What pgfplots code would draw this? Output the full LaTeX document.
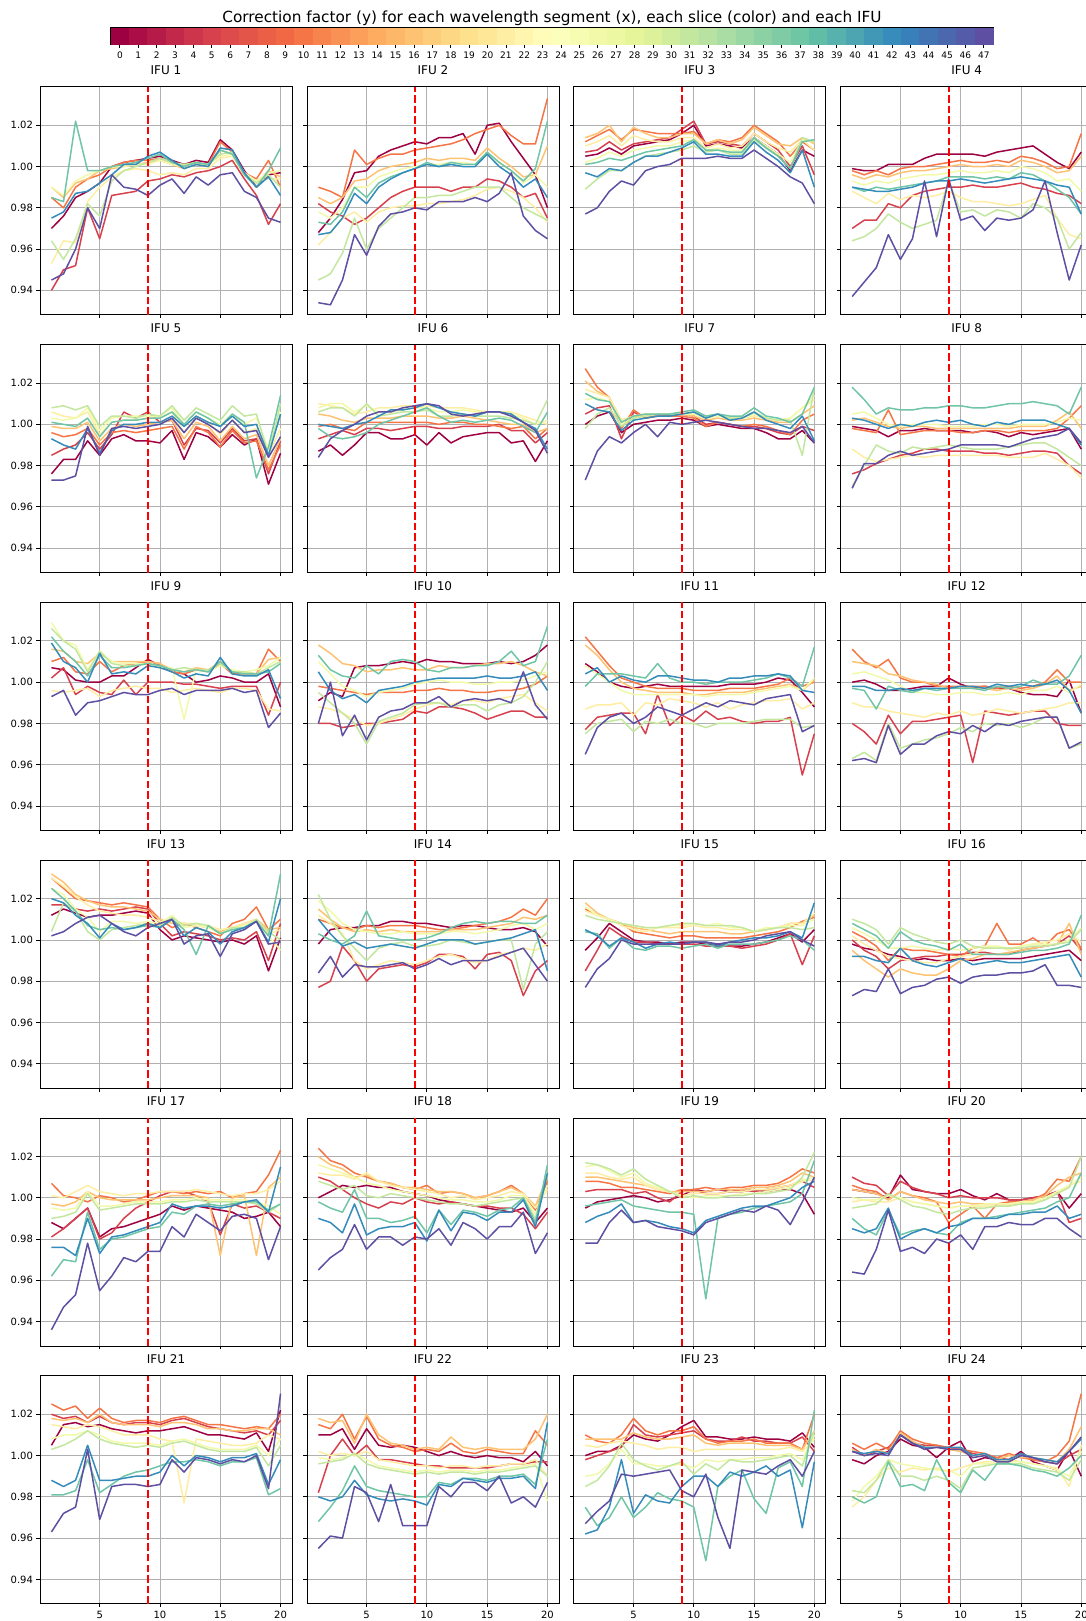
\documentclass[border=0pt]{standalone}
\usepackage{pgfplots}
\pgfplotsset{compat=1.18}
\usepackage{pgfplotstable}
\usepackage{fontspec}
\setmainfont{DejaVu Sans}
\definecolor{c0}{RGB}{158,1,66}
\definecolor{c5}{RGB}{215,65,78}
\definecolor{c10}{RGB}{245,117,71}
\definecolor{c16}{RGB}{253,194,114}
\definecolor{c21}{RGB}{254,238,163}
\definecolor{c26}{RGB}{242,250,170}
\definecolor{c31}{RGB}{195,231,159}
\definecolor{c37}{RGB}{111,197,165}
\definecolor{c42}{RGB}{53,140,187}
\definecolor{c47}{RGB}{94,79,162}
\definecolor{gridgray}{RGB}{176,176,176}

\pgfplotstableread{
x a b c d e f g h i j
1 0.970 0.940 0.985 0.990 0.953 0.990 0.964 0.985 0.975 0.945
2 0.976 0.950 0.980 0.985 0.964 0.986 0.955 0.983 0.978 0.948
3 0.985 0.952 0.990 0.992 0.963 0.993 0.965 1.022 0.987 0.960
4 0.988 0.980 0.994 0.994 0.983 0.996 0.982 0.998 0.988 0.980
5 0.992 0.965 0.996 0.998 0.990 0.998 0.976 0.998 0.992 0.970
6 1.000 0.986 1.000 0.999 0.995 1.000 0.993 1.000 0.996 0.996
7 1.002 0.987 1.002 1.000 0.998 1.000 0.998 1.001 1.001 0.990
8 1.003 0.988 1.003 1.001 0.999 1.001 1.000 1.002 1.001 0.989
9 1.004 0.993 1.003 1.002 0.998 1.001 1.002 1.004 1.005 0.986
10 1.005 0.994 1.004 1.003 0.996 1.003 1.004 1.006 1.007 0.991
11 1.003 0.996 1.002 1.001 0.997 1.001 1.002 1.002 1.003 0.994
12 1.001 0.995 1.000 0.999 0.996 1.000 1.001 1.000 0.999 0.987
13 1.003 0.997 1.002 1.001 0.999 1.001 1.002 1.002 1.001 0.995
14 1.002 0.998 1.001 1.000 0.999 1.001 1.001 1.001 1.000 0.991
15 1.013 1.000 1.012 1.008 1.004 1.005 1.006 1.008 1.009 0.996
16 1.008 1.003 1.007 1.006 1.005 1.006 1.007 1.006 1.008 0.997
17 0.998 0.994 0.997 0.996 0.996 0.997 0.996 0.996 0.997 0.988
18 0.990 0.986 0.994 0.992 0.993 0.993 0.992 0.990 0.990 0.985
19 0.996 0.972 1.003 0.998 0.994 0.997 0.996 0.998 0.995 0.975
20 0.997 0.982 0.990 0.995 0.994 0.998 0.990 1.009 0.986 0.973
}\tabA
\pgfplotstableread{
x a b c d e f g h i j
1 0.968 0.982 0.990 0.985 0.962 0.978 0.945 0.973 0.967 0.934
2 0.975 0.978 0.988 0.982 0.968 0.975 0.948 0.972 0.968 0.933
3 0.984 0.976 0.985 0.985 0.975 0.980 0.958 0.978 0.975 0.945
4 0.997 0.972 1.008 0.993 0.978 0.990 0.975 0.990 0.987 0.967
5 0.998 0.975 1.001 0.994 0.973 0.990 0.960 0.985 0.982 0.957
6 1.005 0.980 1.004 0.998 0.978 0.995 0.970 0.992 0.990 0.971
7 1.008 0.985 1.006 1.000 0.980 0.997 0.975 0.995 0.994 0.977
8 1.010 0.988 1.006 1.001 0.981 0.999 0.980 0.997 0.997 0.978
9 1.012 0.990 1.008 1.002 0.981 1.000 0.985 0.999 0.999 0.980
10 1.011 0.990 1.009 1.004 0.982 1.001 0.985 1.002 1.001 0.979
11 1.014 0.990 1.010 1.003 0.982 1.001 0.986 1.000 1.000 0.983
12 1.014 0.988 1.011 1.004 0.983 1.002 0.986 1.002 1.001 0.983
13 1.016 0.990 1.013 1.004 0.984 1.002 0.988 1.001 1.000 0.983
14 1.006 0.990 1.016 1.003 0.986 1.001 0.990 1.001 1.000 0.985
15 1.020 0.994 1.018 1.009 0.989 1.006 0.990 1.007 1.006 0.983
16 1.021 0.993 1.020 1.004 0.990 1.002 0.990 1.002 1.000 0.987
17 1.012 0.990 1.015 1.000 0.988 0.998 0.985 0.998 0.996 0.997
18 1.004 0.985 1.011 0.995 0.985 0.992 0.980 0.993 0.990 0.976
19 0.996 0.987 1.011 0.996 0.980 0.996 0.977 0.999 0.994 0.969
20 0.980 0.975 1.033 1.010 0.973 0.990 0.974 1.022 0.985 0.965
}\tabB
\pgfplotstableread{
x a b c d e f g h i j
1 1.005 1.007 1.012 1.014 1.010 1.002 0.989 1.001 0.997 0.977
2 1.006 1.008 1.015 1.016 1.012 1.004 0.994 1.002 0.995 0.980
3 1.009 1.012 1.018 1.020 1.015 1.007 0.998 1.004 0.999 0.988
4 1.006 1.008 1.013 1.012 1.010 1.005 0.998 1.003 0.998 0.993
5 1.010 1.011 1.018 1.019 1.015 1.008 1.002 1.005 1.002 0.991
6 1.011 1.012 1.017 1.016 1.013 1.009 1.005 1.007 1.005 0.998
7 1.012 1.013 1.016 1.014 1.012 1.010 1.006 1.008 1.005 1.000
8 1.013 1.014 1.016 1.014 1.012 1.010 1.007 1.009 1.007 1.001
9 1.016 1.018 1.016 1.016 1.014 1.012 1.008 1.010 1.009 1.004
10 1.020 1.022 1.017 1.016 1.014 1.013 1.010 1.013 1.012 1.004
11 1.010 1.011 1.011 1.011 1.009 1.008 1.007 1.008 1.006 1.004
12 1.011 1.012 1.013 1.013 1.011 1.009 1.008 1.008 1.006 1.005
13 1.010 1.011 1.012 1.011 1.009 1.008 1.006 1.007 1.005 1.004
14 1.009 1.010 1.014 1.013 1.010 1.008 1.006 1.007 1.005 1.004
15 1.014 1.016 1.020 1.019 1.016 1.014 1.013 1.014 1.012 1.008
16 1.010 1.012 1.016 1.015 1.012 1.010 1.009 1.009 1.007 1.004
17 1.006 1.008 1.012 1.011 1.009 1.006 1.005 1.005 1.003 1.000
18 0.998 1.000 1.005 1.010 1.007 1.002 0.999 0.999 0.997 0.995
19 1.008 1.010 1.012 1.014 1.013 1.013 1.014 1.012 1.008 0.992
20 1.005 0.996 1.008 1.011 1.008 1.012 1.012 1.013 0.990 0.982
}\tabC
\pgfplotstableread{
x a b c d e f g h i j
1 0.999 0.970 0.998 0.996 0.988 0.993 0.964 0.990 0.990 0.937
2 0.998 0.974 0.996 0.994 0.985 0.991 0.966 0.988 0.989 0.944
3 0.998 0.974 0.998 0.996 0.982 0.993 0.970 0.990 0.988 0.951
4 1.001 0.982 0.996 0.995 0.987 0.992 0.977 0.989 0.988 0.967
5 1.001 0.980 0.999 0.997 0.984 0.994 0.973 0.990 0.989 0.955
6 1.001 0.986 1.000 0.998 0.986 0.995 0.970 0.991 0.990 0.965
7 1.004 0.988 1.000 0.998 0.985 0.996 0.972 0.992 0.992 0.993
8 1.006 0.989 1.001 0.999 0.986 0.996 0.974 0.993 0.993 0.966
9 1.006 0.990 1.002 1.000 0.988 0.997 0.993 0.995 0.993 0.994
10 1.006 0.990 1.003 1.001 0.985 0.998 0.978 0.995 0.994 0.974
11 1.006 0.991 1.002 1.000 0.983 0.997 0.979 0.995 0.993 0.976
12 1.005 0.990 1.002 1.000 0.983 0.997 0.976 0.994 0.992 0.969
13 1.007 0.990 1.003 1.001 0.982 0.998 0.979 0.995 0.993 0.975
14 1.008 0.991 1.002 1.000 0.981 0.997 0.978 0.994 0.994 0.974
15 1.009 0.992 1.005 1.003 0.982 1.000 0.975 0.997 0.995 0.975
16 1.010 0.990 1.004 1.002 0.984 0.999 0.982 0.996 0.994 0.979
17 1.006 0.989 1.002 1.000 0.986 0.997 0.980 0.993 0.993 0.993
18 1.002 0.987 0.999 0.997 0.975 0.993 0.975 0.989 0.991 0.968
19 0.999 0.986 1.000 0.998 0.967 0.994 0.960 0.985 0.990 0.945
20 1.007 0.982 1.016 1.005 0.965 0.988 0.968 0.977 0.977 0.962
}\tabD
\pgfplotstableread{
x a b c d e f g h i j
1 0.976 0.985 0.996 0.999 1.006 1.003 1.008 1.001 0.993 0.973
2 0.983 0.988 0.994 0.998 1.004 1.002 1.009 1.000 0.990 0.973
3 0.983 0.990 0.995 0.998 1.003 1.003 1.007 0.999 0.988 0.975
4 0.992 0.996 0.998 1.001 1.006 1.008 1.009 1.003 0.998 0.999
5 0.985 0.988 0.990 0.992 0.995 0.997 0.999 0.994 0.986 0.985
6 0.993 0.995 0.996 0.998 1.001 1.003 1.004 1.001 0.997 0.998
7 0.995 1.006 0.997 1.000 1.002 1.004 1.004 1.002 1.000 0.999
8 0.992 1.003 0.996 0.999 1.002 1.004 1.003 1.002 1.000 0.998
9 0.992 1.006 0.997 1.000 1.003 1.004 1.005 1.003 1.001 0.999
10 0.991 1.001 0.998 1.001 1.003 1.004 1.004 1.003 1.001 1.000
11 0.997 1.002 0.999 1.002 1.006 1.008 1.009 1.006 1.004 1.003
12 0.983 0.990 0.988 0.993 0.996 1.000 1.002 1.000 0.999 0.996
13 0.996 0.998 0.999 1.001 1.004 1.006 1.008 1.006 1.004 1.003
14 0.994 0.997 0.996 0.999 1.001 1.003 1.005 1.003 1.001 1.000
15 0.989 0.991 0.989 0.992 0.995 1.000 1.002 0.999 0.999 0.996
16 0.995 0.998 0.997 0.999 1.002 1.005 1.009 1.005 1.004 1.002
17 0.990 0.992 0.991 0.993 0.996 1.000 1.004 1.001 0.999 0.996
18 0.993 0.993 0.992 0.995 0.998 1.003 1.005 0.974 1.000 0.997
19 0.971 0.976 0.978 0.980 0.985 0.988 0.985 0.989 0.985 0.984
20 0.986 0.992 0.990 0.993 0.998 1.006 1.010 1.014 1.005 0.994
}\tabE
\pgfplotstableread{
x a b c d e f g h i j
1 0.987 0.993 0.999 1.005 1.010 1.008 1.006 0.998 1.000 0.984
2 0.990 0.995 1.000 1.004 1.009 1.010 1.008 0.994 0.999 0.993
3 0.985 0.997 0.998 1.002 1.008 1.010 1.008 0.993 0.998 0.997
4 0.990 0.995 0.997 1.001 1.005 1.006 1.004 0.994 1.000 1.000
5 0.996 0.998 1.001 1.003 1.006 1.009 1.010 0.996 1.001 1.004
6 0.996 0.998 1.001 1.003 1.008 1.006 1.004 1.000 1.004 1.006
7 0.993 0.997 1.001 1.003 1.008 1.006 1.005 1.002 1.007 1.006
8 0.993 0.998 1.001 1.004 1.009 1.007 1.006 1.004 1.007 1.008
9 0.995 0.999 1.001 1.004 1.009 1.008 1.006 1.006 1.008 1.009
10 0.990 0.999 1.001 1.004 1.009 1.008 1.007 1.008 1.010 1.010
11 0.996 0.998 1.000 1.003 1.008 1.006 1.004 1.004 1.008 1.009
12 0.991 0.998 1.001 1.003 1.008 1.006 1.004 1.001 1.006 1.005
13 0.994 0.999 1.001 1.004 1.008 1.007 1.005 1.002 1.005 1.004
14 0.995 0.999 1.000 1.003 1.007 1.006 1.004 1.001 1.004 1.005
15 0.996 0.999 1.000 1.002 1.006 1.006 1.004 1.002 1.006 1.006
16 0.996 1.000 0.999 1.001 1.006 1.006 1.004 1.003 1.006 1.006
17 0.991 0.997 0.998 1.000 1.006 1.005 1.003 1.002 1.005 1.004
18 0.992 0.997 0.999 1.000 1.004 1.003 1.002 0.999 1.001 1.001
19 0.982 0.991 0.993 0.996 1.002 1.000 1.000 0.996 0.998 0.997
20 0.992 0.996 0.998 0.998 1.000 1.002 1.012 1.006 0.988 0.986
}\tabF
\pgfplotstableread{
x a b c d e f g h i j
1 1.000 1.005 1.027 1.021 1.017 1.012 0.998 1.015 1.010 0.973
2 1.004 1.008 1.018 1.016 1.015 1.013 1.005 1.012 1.007 0.987
3 1.006 1.009 1.013 1.013 1.013 1.011 1.008 1.011 1.006 0.994
4 0.996 0.993 0.998 1.002 1.002 1.000 0.999 1.001 0.997 0.991
5 1.000 1.006 1.007 1.004 1.004 1.003 1.003 1.004 1.002 0.996
6 1.001 1.003 1.003 1.004 1.005 1.004 1.004 1.005 1.003 1.000
7 1.002 1.004 1.005 1.005 1.005 1.005 1.005 1.005 1.004 0.994
8 1.002 1.004 1.004 1.005 1.005 1.005 1.005 1.005 1.004 1.001
9 1.003 1.005 1.004 1.005 1.005 1.005 1.005 1.006 1.005 1.000
10 1.002 1.004 1.003 1.004 1.005 1.005 1.006 1.007 1.006 1.001
11 0.999 1.000 0.999 1.002 1.003 1.003 1.004 1.004 1.003 1.002
12 1.000 1.001 1.001 1.003 1.004 1.004 1.005 1.005 1.005 1.001
13 0.999 1.000 1.000 1.002 1.003 1.003 1.003 1.004 1.002 1.000
14 0.998 0.999 0.999 1.002 1.003 1.003 1.003 1.004 1.003 0.999
15 0.998 0.999 1.000 1.003 1.004 1.005 1.006 1.008 1.006 0.998
16 0.996 0.998 0.999 1.002 1.003 1.003 1.003 1.004 1.002 0.998
17 0.993 0.996 0.997 1.001 1.002 1.002 1.002 1.003 1.000 0.997
18 0.993 0.995 0.995 1.001 1.003 1.003 1.002 1.001 0.998 0.996
19 0.997 0.999 1.002 1.005 1.008 1.008 0.985 1.005 1.004 0.999
20 0.991 0.997 1.005 1.009 1.012 1.014 1.018 1.018 0.992 0.991
}\tabG
\pgfplotstableread{
x a b c d e f g h i j
1 0.999 0.976 0.998 1.002 0.988 1.005 0.970 1.018 1.003 0.969
2 0.998 0.978 0.997 1.003 0.984 1.006 0.980 1.012 1.002 0.981
3 0.997 0.981 0.996 1.001 0.982 1.003 0.990 1.005 1.000 0.981
4 0.994 0.983 1.007 0.999 0.983 1.000 0.987 1.008 0.998 0.985
5 0.997 0.985 0.995 0.998 0.984 0.999 0.986 1.007 1.000 0.987
6 0.997 0.986 0.996 0.999 0.985 1.000 0.989 1.007 0.999 0.985
7 0.998 0.988 0.997 0.999 0.984 1.000 0.988 1.008 1.001 0.986
8 0.997 0.988 0.997 0.998 0.985 1.000 0.989 1.008 1.002 0.987
9 0.997 0.987 0.997 0.998 0.985 0.999 0.990 1.009 1.001 0.988
10 0.997 0.987 0.996 0.998 0.985 0.999 0.989 1.009 1.002 0.990
11 0.996 0.987 0.996 0.998 0.985 0.999 0.988 1.008 1.000 0.990
12 0.997 0.986 0.997 0.998 0.985 1.000 0.988 1.008 0.999 0.990
13 0.996 0.986 0.997 0.998 0.985 1.000 0.988 1.009 1.001 0.990
14 0.994 0.985 0.996 0.998 0.984 0.999 0.989 1.010 1.000 0.989
15 0.996 0.986 0.997 0.999 0.984 1.000 0.990 1.010 1.002 0.991
16 0.995 0.987 0.997 0.999 0.984 1.000 0.991 1.011 1.002 0.993
17 0.996 0.987 0.997 0.999 0.986 1.000 0.991 1.010 1.002 0.994
18 0.997 0.986 0.998 1.002 0.983 1.001 0.988 1.009 1.000 0.995
19 0.998 0.980 1.003 1.006 0.980 1.003 0.984 1.005 0.998 0.998
20 0.988 0.976 1.009 0.998 0.974 1.002 0.980 1.018 0.990 0.991
}\tabH
\pgfplotstableread{
x a b c d e f g h i j
1 1.007 1.002 1.010 1.016 0.996 1.029 1.026 1.022 1.019 0.993
2 1.006 1.007 1.012 1.015 0.995 1.020 1.020 1.015 1.010 0.996
3 1.001 0.994 1.005 1.010 0.996 1.018 1.016 1.010 1.007 0.984
4 1.000 0.998 1.004 1.009 0.997 1.006 1.005 1.003 1.000 0.990
5 1.000 0.995 1.010 1.014 0.993 1.015 1.015 1.013 1.014 0.991
6 1.003 0.994 1.005 1.010 0.996 1.010 1.009 1.007 1.004 0.993
7 1.003 1.001 1.008 1.010 0.997 1.009 1.008 1.007 1.005 0.995
8 1.007 0.994 1.009 1.010 0.998 1.009 1.008 1.008 1.004 0.994
9 1.011 1.000 1.010 1.010 0.997 1.009 1.009 1.009 1.008 0.994
10 1.008 1.000 1.009 1.009 0.997 1.007 1.008 1.008 1.007 0.996
11 1.005 1.000 1.005 1.006 0.995 1.007 1.006 1.006 1.005 0.997
12 1.004 0.999 1.004 1.005 0.996 0.982 1.007 1.005 1.002 0.994
13 1.000 0.999 1.006 1.007 0.997 1.006 1.006 1.006 1.004 0.996
14 1.001 0.998 1.005 1.006 0.996 1.005 1.006 1.005 1.003 0.996
15 1.003 0.997 1.009 1.010 0.995 1.008 1.009 1.010 1.012 0.996
16 1.002 0.998 1.004 1.005 0.997 1.006 1.005 1.005 1.004 0.997
17 1.000 0.998 1.004 1.005 0.997 1.005 1.005 1.004 1.003 0.995
18 1.000 0.998 1.004 1.004 0.996 1.006 1.004 1.004 1.003 0.996
19 1.004 0.984 1.016 1.011 0.987 1.008 1.007 1.005 1.006 0.978
20 0.988 1.000 1.010 1.012 0.986 1.012 1.010 1.009 0.992 0.985
}\tabI
\pgfplotstableread{
x a b c d e f g h i j
1 0.991 0.980 0.998 1.018 0.988 1.010 0.995 1.013 1.005 0.980
2 0.995 0.980 0.997 1.014 0.987 1.004 0.990 1.006 0.996 1.000
3 0.993 0.978 0.996 1.009 0.985 0.998 0.985 1.003 0.992 0.974
4 1.007 0.979 0.995 1.008 0.982 0.996 0.980 1.002 0.994 0.984
5 1.008 0.980 0.994 1.005 0.979 0.993 0.970 1.008 0.990 0.972
6 1.008 0.980 0.995 1.006 0.980 0.995 0.981 1.004 0.996 0.983
7 1.009 0.981 0.995 1.006 0.982 0.996 0.983 1.010 0.997 0.986
8 1.010 0.982 0.995 1.007 0.984 0.997 0.985 1.011 0.998 0.987
9 1.009 0.986 0.996 1.006 0.987 0.999 0.989 1.010 1.000 0.990
10 1.011 0.985 0.996 1.006 0.989 1.000 0.990 1.006 1.001 0.990
11 1.010 0.988 0.997 1.008 0.990 1.001 0.990 1.005 1.002 0.993
12 1.010 0.988 0.996 1.007 0.989 1.000 0.988 1.007 1.002 0.988
13 1.009 0.987 0.996 1.007 0.991 1.000 0.989 1.007 1.002 0.991
14 1.009 0.985 0.995 1.008 0.991 0.999 0.989 1.008 1.002 0.992
15 1.009 0.982 0.995 1.009 0.990 0.999 0.986 1.008 1.003 0.991
16 1.010 0.984 0.996 1.009 0.992 1.000 0.989 1.010 1.002 0.992
17 1.009 0.986 0.996 1.010 0.993 1.000 0.990 1.015 1.002 0.990
18 1.010 0.986 0.997 1.008 0.994 1.001 0.993 1.008 1.003 1.005
19 1.013 0.983 0.999 1.005 0.990 1.003 1.000 1.010 1.005 0.989
20 1.018 0.983 1.003 1.003 0.986 1.005 1.010 1.027 0.996 0.982
}\tabJ
\pgfplotstableread{
x a b c d e f g h i j
1 1.009 0.977 1.022 1.018 0.987 1.008 0.975 0.998 1.004 0.965
2 1.005 0.983 1.015 1.013 0.989 1.004 0.980 1.004 1.007 0.978
3 1.000 0.984 1.008 1.006 0.989 1.000 0.981 1.004 1.000 0.983
4 0.998 0.985 1.002 1.000 0.990 0.996 0.982 1.004 1.003 0.985
5 0.997 0.985 1.000 0.997 0.984 0.994 0.976 1.003 1.001 0.980
6 0.998 0.975 0.998 0.996 0.990 0.994 0.981 1.002 1.000 0.983
7 0.999 0.994 0.997 0.995 0.989 0.994 0.980 1.009 1.003 0.988
8 0.998 0.979 0.997 0.995 0.992 0.994 0.982 1.002 1.003 0.986
9 0.998 0.984 0.997 0.995 0.991 0.994 0.980 1.000 1.002 0.984
10 0.998 0.981 0.996 0.994 0.990 0.994 0.980 1.000 1.001 0.987
11 0.998 0.986 0.996 0.994 0.988 0.993 0.978 0.999 1.001 0.990
12 0.998 0.982 0.996 0.995 0.990 0.994 0.980 1.000 1.000 0.988
13 0.999 0.983 0.997 0.995 0.987 0.994 0.980 1.000 1.002 0.991
14 0.999 0.981 0.997 0.995 0.989 0.994 0.980 1.000 1.002 0.990
15 0.999 0.980 0.997 0.996 0.990 0.995 0.981 1.001 1.003 0.989
16 1.000 0.981 0.998 0.997 0.991 0.996 0.982 1.002 1.003 0.992
17 1.002 0.981 0.999 0.998 0.991 0.997 0.982 1.004 1.004 0.993
18 1.001 0.983 1.002 0.999 0.992 0.998 0.982 1.002 1.003 0.994
19 0.995 0.955 0.998 0.996 0.987 0.996 0.978 0.998 0.996 0.976
20 0.988 0.975 1.000 1.001 0.990 1.002 0.979 1.017 0.995 0.979
}\tabK
\pgfplotstableread{
x a b c d e f g h i j
1 1.000 0.980 1.016 1.010 0.990 1.004 0.963 0.997 0.998 0.962
2 1.001 0.976 1.010 1.009 0.988 1.005 0.966 0.996 0.998 0.963
3 0.999 0.970 1.007 1.008 0.988 1.003 0.962 0.987 0.996 0.961
4 0.996 0.984 1.011 1.004 0.986 1.001 0.980 0.998 0.996 0.979
5 0.996 0.975 1.002 1.003 0.985 0.998 0.968 0.996 0.997 0.965
6 0.997 0.981 1.000 1.001 0.984 0.995 0.970 0.995 0.996 0.970
7 0.998 0.981 1.000 1.000 0.983 0.995 0.972 0.997 0.997 0.970
8 0.998 0.982 0.998 0.999 0.985 0.994 0.973 0.996 0.997 0.974
9 1.002 0.983 0.998 0.997 0.984 0.994 0.975 0.997 0.997 0.976
10 0.999 0.984 0.998 0.998 0.986 0.995 0.978 0.997 0.998 0.975
11 0.997 0.961 0.998 0.997 0.984 0.995 0.976 0.997 0.998 0.979
12 0.998 0.986 0.998 0.997 0.985 0.994 0.980 0.996 0.997 0.976
13 0.997 0.985 0.997 0.996 0.987 0.994 0.979 0.998 0.999 0.980
14 0.997 0.984 0.998 0.997 0.986 0.995 0.980 0.997 0.998 0.979
15 0.995 0.985 0.997 0.996 0.985 0.994 0.978 0.998 0.999 0.981
16 0.994 0.986 0.998 0.997 0.986 0.996 0.980 1.001 0.998 0.982
17 0.994 0.986 1.000 0.999 0.987 0.996 0.983 0.999 0.999 0.983
18 0.993 0.980 1.006 1.003 0.988 0.998 0.983 0.999 1.001 0.983
19 1.001 0.979 1.000 0.996 0.990 0.995 0.968 1.003 0.996 0.968
20 0.985 0.979 1.000 0.998 0.990 0.999 0.970 1.013 0.985 0.971
}\tabL
\pgfplotstableread{
x a b c d e f g h i j
1 1.012 1.017 1.030 1.032 1.030 1.025 1.004 1.025 1.020 1.002
2 1.015 1.017 1.025 1.028 1.026 1.022 1.018 1.020 1.018 1.004
3 1.013 1.015 1.020 1.022 1.021 1.015 1.014 1.014 1.012 1.008
4 1.011 1.014 1.019 1.019 1.017 1.011 1.004 1.007 1.008 1.011
5 1.012 1.015 1.018 1.017 1.014 1.004 1.000 1.005 1.001 1.012
6 1.012 1.014 1.017 1.016 1.013 1.009 1.005 1.006 1.008 1.008
7 1.013 1.015 1.018 1.016 1.012 1.009 1.006 1.005 1.005 1.004
8 1.014 1.016 1.017 1.015 1.012 1.008 1.007 1.006 1.006 1.002
9 1.013 1.015 1.016 1.014 1.011 1.009 1.008 1.007 1.008 1.006
10 1.005 1.008 1.010 1.010 1.009 1.008 1.007 1.006 1.006 1.008
11 1.000 1.002 1.006 1.008 1.009 1.012 1.011 1.010 1.010 1.010
12 1.002 1.004 1.008 1.008 1.008 1.006 1.007 1.005 1.002 0.998
13 1.001 1.003 1.006 1.007 1.008 1.007 1.008 0.993 1.006 1.002
14 1.000 1.002 1.004 1.006 1.007 1.006 1.007 1.007 1.004 1.003
15 0.999 1.000 1.002 1.004 1.005 1.003 1.003 1.003 0.998 0.992
16 1.000 1.001 1.008 1.006 1.006 1.006 1.006 1.005 1.004 1.003
17 0.998 1.000 1.010 1.008 1.008 1.007 1.006 1.006 1.006 1.005
18 1.002 1.004 1.016 1.010 1.010 1.009 1.010 1.009 1.009 1.009
19 0.985 0.990 1.005 1.005 1.003 1.002 1.004 1.002 0.999 0.998
20 1.001 1.008 1.010 1.006 1.005 0.995 1.000 1.032 1.020 0.999
}\tabM
\pgfplotstableread{
x a b c d e f g h i j
1 0.998 0.977 1.010 1.015 1.012 1.019 1.022 1.003 1.010 0.984
2 1.005 0.980 1.008 1.010 1.008 1.014 1.010 1.000 1.003 0.992
3 1.006 0.997 1.006 1.006 1.003 1.008 1.002 0.998 0.997 0.982
4 1.006 0.990 1.005 1.004 0.990 1.005 0.996 1.002 0.999 0.988
5 1.007 0.980 1.007 1.005 0.986 1.004 0.990 1.014 0.996 0.987
6 1.007 0.986 1.006 1.004 0.988 1.003 0.996 1.002 0.997 0.987
7 1.009 0.987 1.007 1.005 0.990 1.003 0.998 1.001 0.998 0.988
8 1.009 0.988 1.007 1.004 0.989 1.004 0.999 1.000 0.997 0.989
9 1.008 0.987 1.007 1.004 0.988 1.003 0.997 1.000 0.996 0.986
10 1.008 0.989 1.006 1.004 0.990 1.003 0.997 1.001 0.998 0.988
11 1.007 0.993 1.005 1.004 0.992 1.003 0.998 1.003 1.000 0.991
12 1.006 0.993 1.005 1.005 0.993 1.004 1.000 1.006 1.000 0.988
13 1.007 0.992 1.006 1.005 0.991 1.004 0.999 1.008 1.000 0.990
14 1.007 0.986 1.007 1.005 0.989 1.003 0.998 1.009 0.998 0.990
15 1.006 0.993 1.008 1.006 0.990 1.004 0.999 1.008 0.999 0.990
16 1.005 0.994 1.009 1.007 0.993 1.005 1.000 1.009 1.000 0.992
17 1.005 0.990 1.011 1.008 0.994 1.007 1.000 1.009 1.001 0.994
18 1.006 0.973 1.015 1.011 0.996 1.008 0.976 1.008 1.003 0.996
19 1.004 0.985 1.012 1.010 0.995 1.005 0.998 1.008 1.005 0.988
20 0.997 0.990 1.020 1.012 0.998 1.008 1.004 1.012 0.985 0.980
}\tabN
\pgfplotstableread{
x a b c d e f g h i j
1 0.995 0.985 1.015 1.018 1.014 1.016 1.012 1.004 1.005 0.977
2 1.001 0.995 1.012 1.013 1.012 1.012 1.010 1.003 1.002 0.986
3 1.008 1.006 1.010 1.010 1.010 1.010 1.009 0.996 0.997 0.991
4 1.004 1.002 1.008 1.008 1.007 1.008 1.008 1.001 1.001 1.000
5 1.000 0.999 1.004 1.006 1.005 1.007 1.007 0.996 0.999 0.998
6 0.999 0.999 1.003 1.005 1.004 1.006 1.006 0.995 0.996 0.998
7 0.999 0.998 1.002 1.004 1.006 1.006 1.006 0.997 0.998 0.998
8 0.998 0.998 1.001 1.003 1.006 1.007 1.007 0.997 0.999 0.998
9 0.999 0.998 1.002 1.004 1.006 1.007 1.008 0.996 0.998 0.998
10 0.999 0.998 1.002 1.004 1.007 1.008 1.008 0.997 0.999 0.999
11 0.998 0.997 1.001 1.004 1.006 1.007 1.007 0.998 0.999 0.999
12 0.998 0.997 1.001 1.004 1.006 1.008 1.007 0.996 0.997 0.998
13 0.997 0.997 1.001 1.003 1.005 1.006 1.007 0.998 0.999 0.999
14 0.997 0.996 1.001 1.003 1.005 1.006 1.006 0.998 1.000 0.999
15 0.998 0.997 1.002 1.004 1.004 1.004 1.004 0.998 1.001 1.000
16 0.999 0.998 1.003 1.005 1.005 1.006 1.005 0.999 1.001 1.002
17 1.001 1.000 1.004 1.006 1.006 1.006 1.006 1.000 1.002 1.003
18 1.003 1.003 1.006 1.008 1.008 1.007 1.006 1.002 1.004 1.004
19 0.999 0.988 1.009 1.008 1.008 1.007 1.005 1.000 1.001 1.000
20 1.005 1.002 1.011 1.012 1.013 1.010 1.006 0.995 1.018 0.997
}\tabO
\pgfplotstableread{
x a b c d e f g h i j
1 0.998 1.000 1.004 0.995 1.002 1.006 1.010 1.008 0.992 0.973
2 0.996 0.995 1.001 0.990 0.998 1.003 1.008 1.005 0.992 0.976
3 0.995 0.992 0.997 0.986 0.995 1.000 1.005 1.002 0.990 0.975
4 0.993 0.986 0.990 0.982 0.992 0.996 0.998 0.996 0.989 0.986
5 0.992 0.990 0.996 0.986 0.991 0.996 1.006 1.004 0.996 0.974
6 0.990 0.991 0.995 0.984 0.990 0.997 1.003 1.000 0.990 0.977
7 0.991 0.992 0.995 0.983 0.989 0.996 1.001 0.998 0.988 0.978
8 0.990 0.992 0.994 0.983 0.989 0.995 0.999 0.997 0.987 0.981
9 0.990 0.993 0.993 0.986 0.991 0.996 0.998 0.995 0.989 0.982
10 0.991 0.993 0.992 0.990 0.992 0.995 1.000 0.998 0.991 0.979
11 0.990 0.994 0.996 0.991 0.993 0.996 0.997 0.993 0.988 0.982
12 0.991 0.994 0.997 0.993 0.996 0.997 0.996 0.993 0.989 0.983
13 0.991 0.993 1.008 0.993 0.997 0.997 0.996 0.993 0.990 0.983
14 0.991 0.993 0.998 0.994 0.995 0.996 0.996 0.993 0.989 0.984
15 0.991 0.995 0.998 0.995 0.997 0.997 0.996 0.994 0.989 0.984
16 0.992 0.996 1.001 0.996 0.998 0.998 0.997 0.995 0.990 0.985
17 0.993 0.997 0.997 0.997 0.999 0.998 0.997 0.995 0.991 0.988
18 0.994 0.998 1.003 0.998 1.000 0.998 0.998 0.996 0.992 0.978
19 0.995 1.002 1.005 1.008 1.003 1.000 0.999 0.998 0.993 0.978
20 0.990 0.995 0.996 0.993 0.999 1.006 1.005 1.012 0.982 0.977
}\tabP
\pgfplotstableread{
x a b c d e f g h i j
1 0.988 0.981 1.007 0.997 1.001 0.995 0.990 0.962 0.976 0.936
2 0.985 0.985 1.001 0.996 1.000 0.994 0.991 0.970 0.976 0.947
3 0.990 0.990 1.000 0.998 1.003 0.995 0.993 0.969 0.972 0.953
4 0.995 0.995 0.998 1.003 1.006 1.003 1.002 0.993 0.990 0.978
5 0.981 0.980 1.001 1.000 1.003 0.996 0.994 0.975 0.973 0.955
6 0.985 0.983 1.000 0.999 1.002 0.996 0.995 0.980 0.981 0.962
7 0.986 0.990 0.998 0.999 1.001 0.997 0.996 0.981 0.982 0.971
8 0.988 0.995 0.999 0.999 1.002 0.998 0.997 0.983 0.984 0.969
9 0.990 0.998 1.001 0.999 1.002 0.998 0.997 0.985 0.986 0.974
10 0.992 1.001 1.003 1.000 1.003 0.998 0.997 0.986 0.988 0.974
11 0.996 1.003 1.003 1.001 1.003 0.999 0.998 0.993 0.997 0.986
12 0.994 1.003 1.002 1.001 1.003 0.999 0.998 0.992 0.995 0.981
13 0.996 1.001 1.003 1.001 1.004 1.000 0.999 0.996 0.996 0.992
14 0.995 0.998 1.002 1.000 1.003 0.999 0.998 0.997 0.996 0.988
15 0.994 0.982 1.003 0.972 1.002 0.999 0.998 0.996 0.995 0.984
16 0.993 0.997 1.000 1.000 1.001 0.999 0.998 0.997 0.996 0.991
17 0.990 0.995 1.002 1.001 1.002 0.999 0.998 0.998 0.998 0.992
18 0.991 0.996 1.003 0.972 1.002 0.998 0.997 0.998 0.999 0.990
19 0.993 0.993 1.011 1.005 1.004 0.996 0.993 0.994 0.993 0.970
20 0.986 0.990 1.023 1.010 1.008 0.992 0.997 0.997 1.015 0.986
}\tabQ
\pgfplotstableread{
x a b c d e f g h i j
1 1.000 1.010 1.024 1.020 1.012 1.016 1.008 0.998 0.990 0.965
2 1.003 1.008 1.018 1.016 1.011 1.014 1.006 0.995 0.988 0.971
3 1.006 1.004 1.016 1.014 1.011 1.012 1.004 0.993 0.983 0.975
4 1.005 1.000 1.012 1.010 1.009 1.010 1.006 1.004 0.997 0.987
5 1.006 0.997 1.010 1.011 1.012 1.007 1.001 0.990 0.982 0.975
6 1.005 0.995 1.008 1.008 1.008 1.006 1.000 0.990 0.985 0.981
7 1.005 0.998 1.007 1.007 1.006 1.004 1.002 0.988 0.986 0.981
8 1.003 0.997 1.005 1.005 1.005 1.003 1.001 0.989 0.986 0.977
9 1.002 1.000 1.004 1.005 1.004 1.002 1.000 0.991 0.988 0.981
10 1.001 0.998 1.006 1.004 1.003 1.001 0.999 0.983 0.979 0.980
11 0.999 0.997 1.002 1.003 1.002 1.000 0.998 0.994 0.994 0.985
12 0.998 0.998 1.003 1.003 1.000 0.999 0.997 0.987 0.984 0.977
13 0.997 0.997 1.002 1.002 1.001 0.999 0.997 0.994 0.993 0.988
14 0.996 0.996 1.000 1.000 0.999 0.998 0.996 0.993 0.992 0.985
15 0.995 0.996 1.001 1.001 1.000 0.998 0.997 0.991 0.989 0.980
16 0.994 0.995 1.003 1.003 1.001 0.999 0.998 0.994 0.993 0.986
17 0.993 0.995 1.006 1.005 1.003 1.001 0.999 0.995 0.993 0.986
18 0.995 0.992 1.002 1.002 1.002 1.001 1.000 1.000 0.999 0.993
19 0.988 0.985 0.994 0.996 0.995 0.992 0.990 0.988 0.986 0.973
20 0.995 0.993 1.008 1.010 1.004 1.006 1.012 1.016 1.012 0.983
}\tabR
\pgfplotstableread{
x a b c d e f g h i j
1 0.995 1.003 1.008 1.010 1.012 1.015 1.017 0.996 0.988 0.978
2 0.998 1.004 1.008 1.010 1.012 1.016 1.016 0.997 0.991 0.978
3 0.999 1.004 1.007 1.009 1.010 1.013 1.014 0.998 0.993 0.988
4 1.000 1.004 1.005 1.008 1.009 1.010 1.011 0.999 0.997 0.994
5 1.001 1.002 1.005 1.007 1.010 1.012 1.014 0.996 0.988 0.988
6 1.000 1.003 1.004 1.006 1.006 1.007 1.009 0.995 0.989 0.989
7 0.998 1.000 1.003 1.004 1.004 1.005 1.006 0.994 0.988 0.986
8 0.999 0.998 1.002 1.003 1.003 1.003 1.003 0.993 0.986 0.985
9 1.001 1.003 1.004 1.003 1.001 1.001 1.000 0.993 0.985 0.984
10 1.004 1.004 1.004 1.003 1.002 1.000 1.001 0.992 0.983 0.982
11 1.003 1.002 1.005 1.003 1.002 1.001 1.000 0.951 0.989 0.988
12 1.004 1.002 1.004 1.004 1.002 1.001 1.000 0.990 0.991 0.990
13 1.003 1.003 1.005 1.004 1.003 1.001 1.001 0.992 0.993 0.992
14 1.003 1.004 1.005 1.004 1.003 1.002 1.001 0.993 0.995 0.994
15 1.004 1.003 1.006 1.005 1.004 1.002 1.002 0.995 0.996 0.993
16 1.003 1.004 1.006 1.005 1.004 1.003 1.002 0.996 0.996 0.996
17 1.004 1.005 1.007 1.006 1.005 1.004 1.003 0.997 0.998 0.994
18 1.004 1.006 1.010 1.008 1.006 1.005 1.004 0.998 1.000 0.987
19 1.002 1.008 1.014 1.012 1.009 1.008 1.010 1.002 1.005 0.998
20 0.992 1.005 1.012 1.010 1.008 1.010 1.022 1.018 1.008 1.010
}\tabS
\pgfplotstableread{
x a b c d e f g h i j
1 1.004 1.010 1.006 1.004 0.998 1.000 0.995 0.990 0.985 0.964
2 1.003 1.007 1.004 1.003 0.999 0.999 0.996 0.985 0.983 0.963
3 1.002 1.006 1.003 1.002 0.998 0.999 0.997 0.982 0.985 0.975
4 1.000 1.001 0.999 0.999 0.998 1.001 1.002 0.994 0.995 0.994
5 1.011 1.008 1.003 1.003 1.000 1.000 0.999 0.982 0.980 0.974
6 1.004 1.005 1.001 1.001 0.998 0.998 0.996 0.984 0.983 0.976
7 1.003 1.003 1.000 0.999 0.997 0.997 0.995 0.985 0.985 0.973
8 1.002 1.002 0.998 0.998 0.996 0.996 0.993 0.983 0.983 0.980
9 1.002 1.000 0.988 0.997 0.995 0.995 0.992 0.982 0.986 0.978
10 1.004 1.001 0.992 0.998 0.996 0.996 0.994 0.988 0.987 0.982
11 1.001 1.000 0.996 0.997 0.996 0.996 0.995 0.990 0.990 0.975
12 0.999 1.000 0.990 0.997 0.996 0.997 0.995 0.990 0.990 0.986
13 1.002 1.000 0.997 0.997 0.996 0.997 0.996 0.991 0.990 0.986
14 0.999 0.999 0.998 0.997 0.996 0.997 0.996 0.992 0.992 0.988
15 0.999 0.999 0.998 0.998 0.997 0.998 0.997 0.993 0.992 0.987
16 1.000 1.000 0.999 0.999 0.998 0.998 0.997 0.994 0.993 0.987
17 1.001 1.001 1.002 1.001 0.999 1.000 0.999 0.995 0.993 0.990
18 1.003 1.003 1.009 1.006 1.002 1.003 1.002 0.998 0.996 0.990
19 0.995 0.988 1.008 1.010 1.006 1.006 1.005 1.000 0.990 0.985
20 1.002 0.990 1.020 1.012 1.008 1.010 1.020 1.012 0.992 0.981
}\tabT
\pgfplotstableread{
x a b c d e f g h i j
1 1.005 1.020 1.025 1.018 1.015 1.008 1.003 0.981 0.988 0.963
2 1.015 1.018 1.022 1.017 1.014 1.010 1.005 0.981 0.985 0.972
3 1.016 1.019 1.024 1.018 1.013 1.010 1.008 0.983 0.988 0.975
4 1.014 1.016 1.018 1.016 1.015 1.012 1.012 0.998 1.005 1.003
5 1.015 1.019 1.023 1.020 1.014 1.010 1.008 0.982 0.988 0.969
6 1.013 1.016 1.018 1.016 1.012 1.007 1.006 0.986 0.988 0.985
7 1.012 1.015 1.016 1.015 1.010 1.006 1.005 0.990 0.989 0.986
8 1.011 1.016 1.017 1.015 1.010 1.006 1.004 0.992 0.990 0.986
9 1.012 1.016 1.017 1.015 1.010 1.006 1.005 0.993 0.990 0.985
10 1.012 1.015 1.016 1.014 1.008 1.005 1.004 0.995 0.992 0.986
11 1.013 1.017 1.018 1.016 1.007 1.007 1.006 0.997 1.000 0.998
12 1.014 1.018 1.019 1.016 0.977 1.008 1.007 0.997 0.995 0.992
13 1.012 1.016 1.017 1.015 1.008 1.006 1.005 0.998 1.000 0.999
14 1.010 1.014 1.015 1.013 1.007 1.004 1.003 0.997 0.999 0.998
15 1.010 1.013 1.015 1.013 1.006 1.003 1.002 0.995 0.997 0.996
16 1.009 1.012 1.014 1.012 1.005 1.003 1.002 0.997 0.999 0.998
17 1.008 1.011 1.013 1.012 1.005 1.003 1.002 0.997 0.999 0.997
18 1.011 1.012 1.014 1.013 1.006 1.005 1.004 0.999 1.001 1.000
19 1.002 1.010 1.013 1.013 1.010 1.000 0.995 0.981 0.986 0.984
20 1.022 1.017 1.020 1.010 1.008 1.008 1.005 0.984 0.998 1.030
}\tabU
\pgfplotstableread{
x a b c d e f g h i j
1 1.010 0.982 1.015 1.018 1.002 0.999 0.996 0.968 0.980 0.955
2 1.010 1.000 1.013 1.016 1.000 0.998 0.997 0.975 0.978 0.961
3 1.013 1.008 1.020 1.017 1.001 0.999 0.998 0.983 0.980 0.960
4 1.003 1.000 1.008 1.006 1.000 1.001 1.001 0.995 0.988 0.985
5 1.013 1.005 1.019 1.020 1.002 0.998 0.996 0.985 0.981 0.982
6 1.005 0.998 1.008 1.010 0.998 0.995 0.994 0.983 0.979 0.968
7 1.004 0.998 1.005 1.006 0.997 0.994 0.993 0.982 0.978 0.986
8 1.005 0.997 1.004 1.005 0.996 0.993 0.992 0.981 0.979 0.966
9 1.004 0.996 1.002 1.003 0.995 0.992 0.991 0.980 0.978 0.966
10 1.002 0.995 1.003 1.004 0.995 0.993 0.992 0.980 0.976 0.966
11 1.000 0.995 1.002 1.003 0.994 0.992 0.991 0.987 0.986 0.985
12 1.002 0.994 1.006 1.009 0.995 0.993 0.992 0.986 0.985 0.980
13 1.000 0.994 1.002 1.004 0.995 0.993 0.992 0.989 0.989 0.987
14 0.999 0.994 1.001 1.003 0.994 0.992 0.991 0.989 0.988 0.987
15 1.000 0.994 1.003 1.004 0.995 0.993 0.992 0.988 0.987 0.983
16 0.999 0.995 1.002 1.003 0.995 0.993 0.992 0.990 0.989 0.990
17 0.999 0.996 1.001 1.003 0.996 0.994 0.993 0.990 0.989 0.977
18 0.997 0.996 1.001 1.003 0.996 0.995 0.994 0.991 0.990 0.980
19 1.002 0.997 1.012 1.008 0.998 0.996 0.995 0.986 0.984 0.975
20 0.995 0.997 1.005 1.020 0.990 0.978 0.990 1.008 1.016 0.987
}\tabV
\pgfplotstableread{
x a b c d e f g h i j
1 1.000 0.998 1.010 1.008 1.005 0.990 0.985 0.975 0.962 0.967
2 1.002 1.000 1.007 1.008 1.004 0.991 0.988 0.966 0.964 0.973
3 1.002 1.002 1.006 1.008 1.006 0.996 0.995 0.970 0.975 0.978
4 1.005 1.004 1.010 1.008 1.007 1.003 1.006 0.980 0.998 0.991
5 1.010 1.015 1.018 1.011 1.006 0.996 0.998 0.970 0.972 0.990
6 1.008 1.010 1.012 1.009 1.005 0.996 0.995 0.975 0.981 0.991
7 1.007 1.009 1.010 1.008 1.003 0.995 0.993 0.982 0.978 0.992
8 1.010 1.010 1.012 1.008 1.004 0.995 0.995 0.979 0.977 0.993
9 1.014 1.011 1.012 1.009 1.004 0.996 0.997 0.978 0.985 0.983
10 1.017 1.012 1.014 1.010 1.002 0.994 0.991 0.975 0.990 0.980
11 1.009 1.008 1.008 1.006 1.003 0.998 0.996 0.949 0.990 0.991
12 1.009 1.007 1.006 1.005 1.003 0.997 0.993 0.985 0.985 0.970
13 1.008 1.007 1.007 1.006 1.003 0.998 0.998 0.990 0.992 0.955
14 1.008 1.009 1.007 1.006 1.003 0.998 0.997 0.993 0.990 0.993
15 1.009 1.007 1.008 1.006 1.003 0.999 0.997 0.979 0.992 0.992
16 1.008 1.007 1.006 1.005 1.003 0.999 0.998 0.972 0.995 0.991
17 1.008 1.006 1.006 1.005 1.003 1.000 0.999 0.994 0.990 0.995
18 1.007 1.006 1.006 1.005 1.004 1.001 1.000 0.997 0.993 0.998
19 1.011 1.009 1.003 1.003 1.002 0.998 0.995 0.985 0.965 0.990
20 1.004 1.002 1.020 1.012 1.008 1.010 1.012 1.022 0.997 1.002
}\tabW
\pgfplotstableread{
x a b c d e f g h i j
1 0.998 1.004 1.006 1.003 0.975 0.978 0.983 0.980 1.002 1.002
2 0.996 1.000 1.003 1.000 0.980 0.985 0.982 0.977 1.001 1.000
3 1.000 1.002 1.006 1.003 0.988 0.990 0.988 0.980 1.002 1.001
4 1.002 1.004 1.003 1.001 0.994 0.998 0.998 0.997 1.001 1.000
5 1.008 1.010 1.012 1.011 0.992 0.996 0.990 0.985 1.010 1.010
6 1.005 1.006 1.008 1.007 0.994 0.995 0.990 0.986 1.006 1.006
7 1.004 1.005 1.006 1.004 0.993 0.994 0.988 0.983 1.004 1.003
8 0.999 1.005 1.005 1.004 0.994 0.993 0.990 0.998 1.004 1.004
9 1.004 1.003 1.004 1.003 0.992 0.993 0.988 0.987 1.004 1.003
10 1.007 1.003 1.003 1.002 0.994 0.990 0.984 0.982 1.004 1.003
11 0.997 1.001 1.002 1.000 0.996 0.996 0.994 0.993 1.000 0.999
12 0.999 1.000 1.001 1.000 0.997 0.996 0.995 0.988 1.001 1.000
13 0.998 0.999 0.999 0.998 0.997 0.996 0.996 0.996 0.998 0.997
14 0.998 0.998 1.001 1.000 0.998 0.997 0.996 0.996 0.998 0.997
15 1.002 1.001 0.999 0.999 0.997 0.997 0.996 0.995 1.001 1.000
16 0.997 0.998 0.998 0.999 0.996 0.996 0.994 0.993 0.999 0.999
17 0.995 0.997 0.997 0.998 0.995 0.995 0.993 0.992 0.998 0.997
18 0.993 0.996 1.000 0.997 0.994 0.993 0.992 0.990 0.997 0.996
19 1.003 1.000 1.007 1.003 0.985 0.990 0.988 0.994 1.002 1.002
20 0.990 1.003 1.030 1.014 1.005 1.002 0.998 1.000 1.008 1.009
}\tabX

\pgfplotsset{
  /pgf/number format/assume math mode=true,
  ifu/.style={
    scale only axis, width=252pt, height=228pt, anchor=north west,
    xmin=0.05, xmax=20.95, ymin=0.9282, ymax=1.0387,
    xtick={5,10,15,20}, ytick={0.94,0.96,0.98,1.00,1.02},
    grid=major, major grid style={gridgray, line width=0.8pt},
    tick align=outside, tick pos=left, major tick length=3.5pt,
    every tick/.style={black, line width=0.8pt},
    axis line style={line width=0.8pt},
    tick label style={font=\fontsize{10}{12}\selectfont},
    title style={font=\fontsize{12}{14}\selectfont, at={(0.5,1)}, anchor=base, yshift=6pt},
    every axis plot/.append style={line width=1.5pt, line join=round, mark=none},
    xticklabels={}, yticklabels={},
  },
  leftcol/.style={yticklabels={0.94,0.96,0.98,1.00,1.02}},
  botrow/.style={xticklabels={5,10,15,20}},
}
\newcommand{\ifulines}[1]{%
  \addplot[c0] table[x=x,y=a]{#1};
  \addplot[c5] table[x=x,y=b]{#1};
  \addplot[c10] table[x=x,y=c]{#1};
  \addplot[c16] table[x=x,y=d]{#1};
  \addplot[c21] table[x=x,y=e]{#1};
  \addplot[c26] table[x=x,y=f]{#1};
  \addplot[c31] table[x=x,y=g]{#1};
  \addplot[c37] table[x=x,y=h]{#1};
  \addplot[c42] table[x=x,y=i]{#1};
  \addplot[c47] table[x=x,y=j]{#1};
  \addplot[red, line width=2pt, dash pattern=on 7.4pt off 3.2pt] coordinates {(9,0.9282) (9,1.0387)};
}
\newcommand{\ifu}[5]{%
  \begin{axis}[ifu, at={(#1pt,-#2pt)}, title={#3}, #5]
  \ifulines{#4}
  \end{axis}}

\begin{document}
\begin{tikzpicture}
\useasboundingbox (0,0) rectangle (1086pt,-1621pt);
\node[anchor=base, font=\fontsize{15.3}{18}\selectfont] at (552pt,-23pt) {Correction factor (y) for each wavelength segment (x), each slice (color) and each IFU};
\begin{axis}[scale only axis, width=882.3pt, height=16.6pt, at={(110.7pt,-27.9pt)}, anchor=north west,
  xmin=-0.5, xmax=47.5, ymin=0, ymax=1, xtick={0,1,...,47}, ytick=\empty,
  tick align=outside, xtick pos=bottom, major tick length=3.5pt,
  every tick/.style={black, line width=0.8pt},
  xticklabel style={font=\fontsize{9}{11}\selectfont},
  axis on top, axis line style={line width=0.8pt}, clip=false,
  colormap={spectral}{rgb255=(158,1,66) rgb255=(213,62,79) rgb255=(244,109,67) rgb255=(253,174,97) rgb255=(254,224,139) rgb255=(255,255,191) rgb255=(230,245,152) rgb255=(171,221,164) rgb255=(102,194,165) rgb255=(50,136,189) rgb255=(94,79,162)},
  point meta min=0, point meta max=47]
\addplot[scatter, only marks, mark=square*, mark size=9.19pt, point meta=x,
  scatter/use mapped color={draw=mapped color, fill=mapped color},
  mark options={yscale=0.903, line width=0.2pt}] coordinates {
(0,0.5) (1,0.5) (2,0.5) (3,0.5) (4,0.5) (5,0.5) (6,0.5) (7,0.5) (8,0.5) (9,0.5)
(10,0.5) (11,0.5) (12,0.5) (13,0.5) (14,0.5) (15,0.5) (16,0.5) (17,0.5) (18,0.5) (19,0.5)
(20,0.5) (21,0.5) (22,0.5) (23,0.5) (24,0.5) (25,0.5) (26,0.5) (27,0.5) (28,0.5) (29,0.5)
(30,0.5) (31,0.5) (32,0.5) (33,0.5) (34,0.5) (35,0.5) (36,0.5) (37,0.5) (38,0.5) (39,0.5)
(40,0.5) (41,0.5) (42,0.5) (43,0.5) (44,0.5) (45,0.5) (46,0.5) (47,0.5)};
\end{axis}
\ifu{40}{86.7}{IFU 1}{\tabA}{leftcol}
\ifu{306.9}{86.7}{IFU 2}{\tabB}{}
\ifu{573.8}{86.7}{IFU 3}{\tabC}{}
\ifu{840.7}{86.7}{IFU 4}{\tabD}{}
\ifu{40}{344.5}{IFU 5}{\tabE}{leftcol}
\ifu{306.9}{344.5}{IFU 6}{\tabF}{}
\ifu{573.8}{344.5}{IFU 7}{\tabG}{}
\ifu{840.7}{344.5}{IFU 8}{\tabH}{}
\ifu{40}{602.3}{IFU 9}{\tabI}{leftcol}
\ifu{306.9}{602.3}{IFU 10}{\tabJ}{}
\ifu{573.8}{602.3}{IFU 11}{\tabK}{}
\ifu{840.7}{602.3}{IFU 12}{\tabL}{}
\ifu{40}{860.1}{IFU 13}{\tabM}{leftcol}
\ifu{306.9}{860.1}{IFU 14}{\tabN}{}
\ifu{573.8}{860.1}{IFU 15}{\tabO}{}
\ifu{840.7}{860.1}{IFU 16}{\tabP}{}
\ifu{40}{1117.9}{IFU 17}{\tabQ}{leftcol}
\ifu{306.9}{1117.9}{IFU 18}{\tabR}{}
\ifu{573.8}{1117.9}{IFU 19}{\tabS}{}
\ifu{840.7}{1117.9}{IFU 20}{\tabT}{}
\ifu{40}{1375.7}{IFU 21}{\tabU}{leftcol,botrow}
\ifu{306.9}{1375.7}{IFU 22}{\tabV}{botrow}
\ifu{573.8}{1375.7}{IFU 23}{\tabW}{botrow}
\ifu{840.7}{1375.7}{IFU 24}{\tabX}{botrow}
\end{tikzpicture}
\end{document}
